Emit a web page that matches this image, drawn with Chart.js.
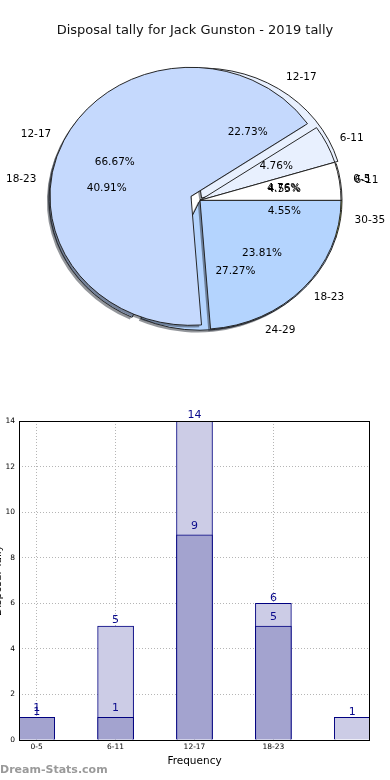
<!DOCTYPE html>
<html><head><meta charset="utf-8">
<script src="https://cdn.jsdelivr.net/npm/chart.js@4.4.1/dist/chart.umd.min.js"></script>
<style>
html,body{margin:0;padding:0;background:#fff;}
body{width:390px;height:780px;overflow:hidden;position:relative;}
canvas{position:absolute;}
</style></head><body>
<canvas id="pieBack" width="390" height="360" style="left:0;top:0"></canvas>
<canvas id="pieFront" width="390" height="360" style="left:0;top:0"></canvas>
<canvas id="bars" width="398" height="380" style="left:-8px;top:400px"></canvas>
<script>
// ---------- data ----------
const chartTitle = 'Disposal tally for Jack Gunston - 2019 tally';
const pieFrontLabels = ['0-5', '6-11', '12-17', '18-23'];
const pieFrontValues = [1, 1, 14, 5];
const pieBackLabels = ['6-11', '12-17', '18-23', '24-29', '30-35'];
const pieBackValues = [1, 5, 9, 6, 1];

const barTickLabels = ['0-5', '6-11', '12-17', '18-23'];
const barLightValues = [1, 5, 14, 6, 1];
const barDarkValues = [1, 1, 9, 5];
const xAxisTitle = 'Frequency';
const yAxisTitle = 'Disposal Tally';
const watermark = 'Dream-Stats.com';

// ---------- styles ----------
const FONT = '"DejaVu Sans", sans-serif';
const pieFrontColors = ['#ffffff', '#e8f0fe', '#c5d9fd', '#b4d4fe'];
const pieBackColors = ['#ffffff', '#e8f0fe', '#c5d9fd', '#b4d4fe', '#d6e46e'];
const pieFrontExplode = [0, 0, 10, 0];
const pieBackExplode = [0, 3, 9, 0, 0];
const KY = 0.915;      // vertical squash of the (non-equal-aspect) pie
const PIE_DX = 5;      // pie sits slightly right of the centred title

const rev = a => a.slice().reverse();

function pieGeometry(chart, explode) {
  const arcs = chart.getDatasetMeta(0).data;
  const ex = rev(explode);
  return arcs.map((arc, i) => ({arc, mid: (arc.startAngle + arc.endAngle) / 2, e: ex[i]}));
}

function ellipsePlugin(explode) {
  return {
    id: 'ellipsePie',
    beforeDatasetDraw(chart) {
      const ctx = chart.ctx;
      const items = pieGeometry(chart, explode);
      const cx = items[0].arc.x, cy = items[0].arc.y;
      ctx.save();
      ctx.translate(PIE_DX, 0);
      ctx.translate(cx, cy); ctx.scale(1, KY); ctx.translate(-cx, -cy);
      ctx.fillStyle = 'rgba(40,45,55,0.5)';
      items.forEach(({arc, mid, e}) => {
        const x = arc.x + Math.cos(mid) * e - 2.2;
        const y = arc.y + Math.sin(mid) * e + 2.2 / KY;
        ctx.beginPath(); ctx.moveTo(x, y);
        ctx.arc(x, y, arc.outerRadius, arc.startAngle, arc.endAngle);
        ctx.closePath(); ctx.fill();
      });
      items.forEach(({arc, mid, e}) => {
        ctx.save();
        ctx.translate(Math.cos(mid) * e, Math.sin(mid) * e);
        arc.draw(ctx);
        ctx.restore();
      });
      ctx.restore();
      return false;
    }
  };
}

function drawPieLabels(ctx, chart, labels, values, explode) {
  const total = values.reduce((s, v) => s + v, 0);
  const rl = rev(labels), rv = rev(values);
  const items = pieGeometry(chart, explode);
  ctx.save();
  ctx.font = '10.5px ' + FONT;
  ctx.fillStyle = '#000';
  ctx.textBaseline = 'middle';
  items.forEach(({arc, mid, e}, i) => {
    const c = Math.cos(mid), s = Math.sin(mid), R = arc.outerRadius;
    const bx = arc.x + PIE_DX + c * e, by = arc.y + s * e * KY;
    ctx.textAlign = 'center';
    ctx.fillText((rv[i] / total * 100).toFixed(2) + '%', bx + c * R * 0.6, by + s * R * 0.6 * KY);
    ctx.textAlign = c >= 0 ? 'left' : 'right';
    ctx.fillText(rl[i], bx + c * R * 1.1, by + s * R * 1.1 * KY);
  });
  ctx.restore();
}

const backChart = new Chart(document.getElementById('pieBack'), {
  type: 'pie',
  data: {labels: rev(pieBackLabels), datasets: [{
    data: rev(pieBackValues), backgroundColor: rev(pieBackColors),
    borderColor: '#1e1e1e', borderWidth: 1
  }]},
  options: {
    responsive: false, animation: false, events: [],
    rotation: 90, radius: 142,
    plugins: {
      legend: {display: false}, tooltip: {enabled: false},
      title: {display: true, text: chartTitle, color: '#111',
        font: {family: FONT, size: 13, weight: 'normal', lineHeight: 1.2},
        padding: {top: 23, bottom: 2}}
    }
  },
  plugins: [ellipsePlugin(pieBackExplode)]
});

const frontChart = new Chart(document.getElementById('pieFront'), {
  type: 'pie',
  data: {labels: rev(pieFrontLabels), datasets: [{
    data: rev(pieFrontValues), backgroundColor: rev(pieFrontColors),
    borderColor: '#1e1e1e', borderWidth: 1
  }]},
  options: {
    responsive: false, animation: false, events: [],
    rotation: 90, radius: 141,
    layout: {padding: {top: 40.6}},
    plugins: {legend: {display: false}, tooltip: {enabled: false}}
  },
  plugins: [ellipsePlugin(pieFrontExplode), {
    id: 'allLabels',
    afterDraw(chart) {
      drawPieLabels(chart.ctx, chart, pieFrontLabels, pieFrontValues, pieFrontExplode);
      drawPieLabels(chart.ctx, backChart, pieBackLabels, pieBackValues, pieBackExplode);
    }
  }]
});

// ---------- bar chart ----------
const labelLift = [9, 5.5];
const barChart = new Chart(document.getElementById('bars'), {
  type: 'bar',
  data: {datasets: [
    {label: 'dark', data: barDarkValues.map((v, i) => ({x: i, y: v})),
      backgroundColor: '#a3a3cf', borderColor: '#000080', borderWidth: 1,
      barThickness: 36, grouped: false, order: 0},
    {label: 'light', data: barLightValues.map((v, i) => ({x: i, y: v})),
      backgroundColor: '#ccccE6', borderColor: '#000080', borderWidth: 1,
      barThickness: 36, grouped: false, order: 1}
  ]},
  options: {
    responsive: false, animation: false, events: [],
    layout: {padding: {top: 21, right: 20, bottom: 0, left: 0}},
    plugins: {legend: {display: false}, tooltip: {enabled: false}},
    scales: {
      x: {
        type: 'linear', min: -0.2245, max: 4.2245, offset: false,
        afterBuildTicks: s => { s.ticks = barTickLabels.map((_, i) => ({value: i})); },
        afterFit: s => { s.height = 40; },
        ticks: {autoSkip: false, maxRotation: 0, padding: 3, color: '#000',
          font: {family: FONT, size: 7.5}, callback: v => barTickLabels[v]},
        grid: {color: '#b5b5b5', drawTicks: false, lineWidth: 1, offset: false},
        border: {display: false, dash: [1, 2]},
        title: {display: true, text: xAxisTitle, color: '#000',
          font: {family: FONT, size: 10.5}, padding: {top: 0, bottom: 12.7}}
      },
      y: {
        min: 0, max: 14,
        afterFit: s => { s.width = 27; },
        ticks: {stepSize: 2, padding: 4, color: '#000', font: {family: FONT, size: 7.5}},
        grid: {color: '#b5b5b5', drawTicks: false, lineWidth: 1},
        border: {display: false, dash: [1, 2]},
        title: {display: true, text: yAxisTitle, color: '#000',
          font: {family: FONT, size: 10.5}, padding: 0}
      }
    }
  },
  plugins: [{
    id: 'barExtras',
    afterDatasetsDraw(chart) {
      const ctx = chart.ctx;
      ctx.save();
      ctx.font = '11px ' + FONT;
      ctx.fillStyle = '#0a0a8c';
      ctx.textAlign = 'center';
      ctx.textBaseline = 'middle';
      chart.data.datasets.forEach((ds, di) => {
        chart.getDatasetMeta(di).data.forEach((bar, i) => {
          ctx.fillText(String(ds.data[i].y), bar.x, bar.y - labelLift[di]);
        });
      });
      ctx.restore();
    },
    afterDraw(chart) {
      const ctx = chart.ctx, a = chart.chartArea;
      ctx.save();
      ctx.strokeStyle = '#000'; ctx.lineWidth = 1;
      ctx.strokeRect(Math.round(a.left) + 0.5, Math.round(a.top) + 0.5,
        Math.round(a.right - a.left) - 1, Math.round(a.bottom - a.top));
      ctx.font = 'bold 11px ' + FONT;
      ctx.fillStyle = '#9a9a9a';
      ctx.textAlign = 'left'; ctx.textBaseline = 'middle';
      ctx.fillText(watermark, 8, 370);
      ctx.restore();
    }
  }]
});
</script>
</body></html>
